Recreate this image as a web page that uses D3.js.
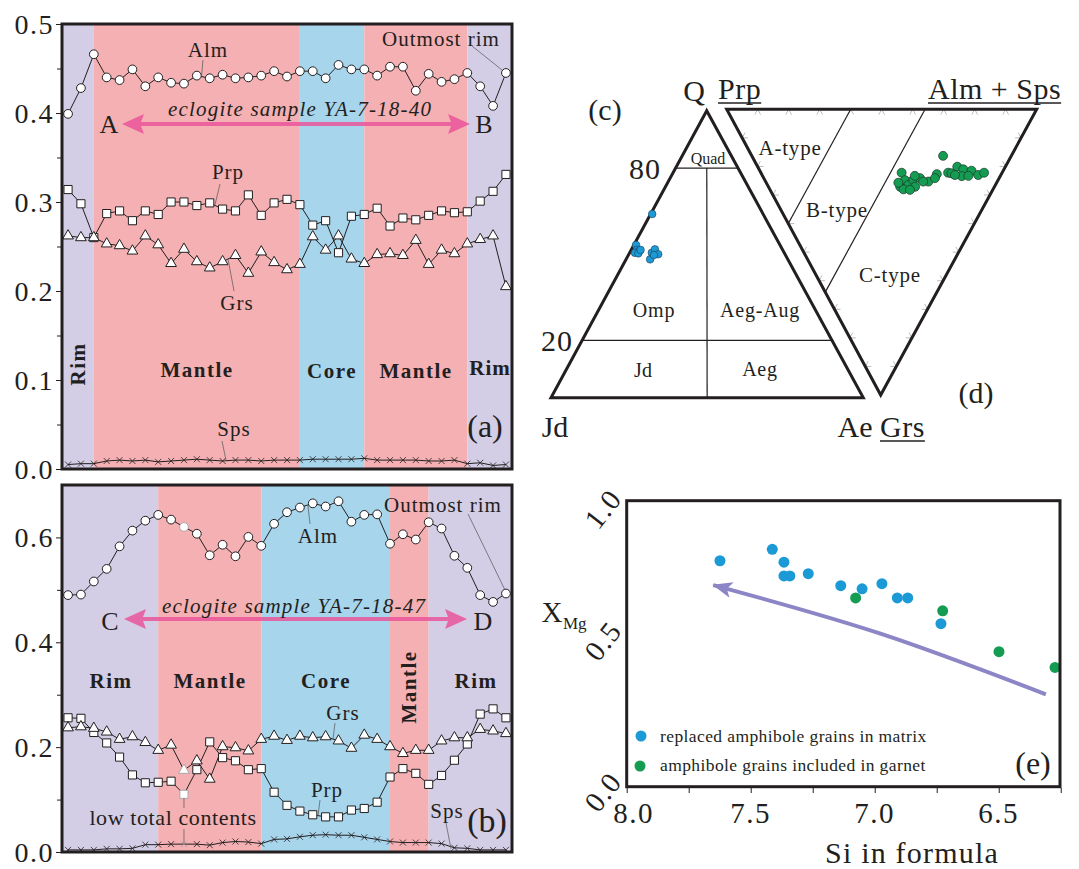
<!DOCTYPE html>
<html>
<head>
<meta charset="utf-8">
<script src="https://cdn.jsdelivr.net/npm/d3@7"></script>
<style>
body { margin: 0; background: #fff; }
text { font-family: "Liberation Serif", "Times New Roman", serif; fill: #231f20; }
</style>
</head>
<body>
<svg id="fig" width="1079" height="869"></svg>
<script>
// ---- garnet profile (a) YA-7-18-40, 35 spots ----
var almA = [0.399,0.428,0.466,0.440,0.437,0.449,0.430,0.440,0.434,0.433,0.442,0.439,0.443,0.439,0.440,0.442,0.447,0.441,0.447,0.447,0.439,0.454,0.449,0.449,0.442,0.452,0.452,0.425,0.444,0.435,0.438,0.445,0.430,0.408,0.445];
var prpA = [0.314,0.298,0.260,0.287,0.290,0.279,0.290,0.286,0.300,0.300,0.296,0.299,0.292,0.290,0.308,0.285,0.299,0.303,0.297,0.274,0.279,0.243,0.284,0.286,0.293,0.273,0.282,0.280,0.285,0.290,0.288,0.289,0.301,0.312,0.331];
var grsA = [0.262,0.260,0.260,0.253,0.251,0.245,0.262,0.252,0.231,0.247,0.233,0.226,0.233,0.240,0.220,0.244,0.232,0.224,0.230,0.261,0.246,0.262,0.236,0.231,0.241,0.242,0.240,0.257,0.230,0.246,0.242,0.253,0.258,0.262,0.205];
var spsA = [0.005,0.006,0.006,0.009,0.010,0.009,0.010,0.008,0.009,0.010,0.011,0.010,0.009,0.010,0.010,0.009,0.010,0.010,0.010,0.011,0.011,0.011,0.011,0.012,0.010,0.010,0.010,0.010,0.009,0.009,0.010,0.006,0.007,0.004,0.005];

// ---- garnet profile (b) YA-7-18-47 ----
var almB = [0.490,0.491,0.516,0.540,0.583,0.613,0.632,0.643,0.634,0.620,0.607,0.566,0.586,0.564,0.601,0.584,0.626,0.648,0.657,0.665,0.659,0.669,0.630,0.643,0.644,0.588,0.606,0.596,0.629,0.617,0.565,0.542,0.490,0.477,0.493];
var prpB = [0.256,0.255,0.228,0.208,0.181,0.147,0.132,0.133,0.135,0.110,0.157,0.210,0.180,0.174,0.157,0.159,0.114,0.089,0.078,0.071,0.067,0.067,0.080,0.083,0.095,0.143,0.159,0.150,0.129,0.146,0.175,0.206,0.263,0.273,0.256];
var grsB = [0.237,0.239,0.236,0.229,0.215,0.220,0.209,0.194,0.204,0.156,0.174,0.139,0.201,0.199,0.193,0.215,0.221,0.213,0.221,0.218,0.220,0.212,0.198,0.223,0.215,0.201,0.188,0.194,0.194,0.212,0.218,0.218,0.234,0.231,0.226];
var spsB = [0.004,0.004,0.004,0.006,0.006,0.007,0.014,0.014,0.015,0.015,0.015,0.013,0.018,0.020,0.019,0.016,0.024,0.025,0.029,0.032,0.033,0.032,0.032,0.028,0.024,0.020,0.018,0.018,0.018,0.016,0.008,0.007,0.004,0.004,0.004];
var lowTotalB = [9];   // spot with low total contents (grey symbols)

// zones along the profiles (in spot units)
var zoneNames = ["Rim", "Mantle", "Core", "Mantle", "Rim"];
var zoneEdgesA = [-0.47, 2, 18, 23, 31, 34.47];
var zoneEdgesB = [-0.47, 7, 15, 25, 28, 34.47];

// ---- (c) clinopyroxene Q-Jd-Ae (%) ----
var cpxQ  = [64.0, 53.2, 51.5, 51.2, 50.5, 50.3, 51.5, 48.2, 50.5, 51.7, 50.0, 49.7];
var cpxJd = [35.5, 46.1, 46.7, 46.0, 47.8, 46.8, 45.5, 44.1, 42.4, 40.8, 40.6, 42.1];
var cpxAe = [0.5, 0.7, 1.8, 2.8, 1.7, 2.9, 3.0, 7.7, 7.1, 7.5, 9.4, 8.2];

// ---- (d) garnet Prp-(Alm+Sps)-Grs (%) ----
var grtPrp = [22.0,32.4,30.4,30.0,28.1,27.4,25.6,25.5,28.9,26.7,22.2,20.8,20.7,17.4,16.2,15.5,13.1,12.4,10.2,7.3,5.8,10.3,14.8,27.6,31.7,23.9];
var grtAlm = [61.7,45.4,42.5,45.2,45.4,47.9,47.3,50.4,43.1,45.1,52.5,56.5,55.2,60.4,61.4,64.4,65.9,64.2,68.3,69.7,72.0,66.4,62.2,49.1,42.6,50.8];
var grtGrs = [16.3,22.2,27.1,24.8,26.5,24.7,27.1,24.1,28.0,28.2,25.3,22.7,24.1,22.2,22.4,20.1,21.0,23.4,21.5,23.0,22.2,23.3,23.0,23.3,25.7,25.3];
var typeBoundsPrp = [60, 36];

// ---- (e) amphibole ----
var matrixSi  = [7.624, 7.413, 7.366, 7.366, 7.342, 7.268, 7.137, 7.051, 6.971, 6.909, 6.867, 6.733];
var matrixXMg = [0.790, 0.830, 0.785, 0.737, 0.737, 0.745, 0.703, 0.692, 0.710, 0.660, 0.660, 0.570];
var inclSi  = [7.077, 6.726, 6.499, 6.273];
var inclXMg = [0.660, 0.615, 0.472, 0.417];
var trendSi  = [6.31, 6.98, 7.651];
var trendXMg = [0.323, 0.536, 0.705];
var siTicks = [8.0, 7.5, 7.0, 6.5];

var INK = "#231f20";
var zoneFill = ["#d3cde6", "#f4b0b2", "#a6d5ec", "#f4b0b2", "#d3cde6"];
var PINK = "#e9559a", PURPLE = "#8c86c6", BLUE = "#1c9ad6", GREEN = "#139c52";

var svg = d3.select("#fig");
svg.append("rect").attr("width", 1079).attr("height", 869).attr("fill", "#fff");

function label(g, x, y, s, size, o) {
  o = o || {};
  var t = g.append("text").attr("x", x).attr("y", y).text(s)
    .attr("font-size", size)
    .attr("text-anchor", o.anchor || "middle");
  if (o.bold) t.attr("font-weight", "bold");
  if (o.italic) t.attr("font-style", "italic");
  if (o.ls) t.attr("letter-spacing", o.ls);
  if (o.rot) t.attr("transform", "rotate(" + o.rot + "," + x + "," + y + ")");
  return t;
}
function leader(g, x1, y1, x2, y2) {
  g.append("line").attr("x1", x1).attr("y1", y1).attr("x2", x2).attr("y2", y2)
    .attr("stroke", "#555").attr("stroke-width", 0.7);
}
function doubleArrow(g, x1, x2, y) {
  var p = d3.path();
  p.moveTo(x1, y); p.lineTo(x1 + 22, y - 10); p.lineTo(x1 + 19, y - 2);
  p.lineTo(x2 - 19, y - 2); p.lineTo(x2 - 22, y - 10); p.lineTo(x2, y);
  p.lineTo(x2 - 22, y + 10); p.lineTo(x2 - 19, y + 2); p.lineTo(x1 + 19, y + 2);
  p.lineTo(x1 + 22, y + 10); p.closePath();
  g.append("path").attr("d", p.toString()).attr("fill", PINK).attr("opacity", 0.85);
}

var xProf = d3.scaleLinear().domain([-0.47, 34.47]).range([62, 512]);
var symCircle = d3.symbol(d3.symbolCircle, 60)();
var symSquare = d3.symbol(d3.symbolSquare, 66)();
var symTri = d3.symbol(d3.symbolTriangle, 50)();
var symX = "M-3,-3L3,3M-3,3L3,-3";

function profilePanel(y, edges, series, grey, major, minor) {
  var g = svg.append("g");
  var top = y.range()[1], bottom = y.range()[0];
  var bands = zoneNames.map(function (n, i) { return { a: edges[i], b: edges[i + 1] }; });
  g.selectAll("rect.band").data(bands).enter().append("rect")
    .attr("x", function (d) { return xProf(d.a); })
    .attr("width", function (d) { return xProf(d.b) - xProf(d.a); })
    .attr("y", top).attr("height", bottom - top)
    .attr("fill", function (d, i) { return zoneFill[i]; });

  var line = d3.line().x(function (d, i) { return xProf(i); }).y(function (d) { return y(d); });
  series.forEach(function (s) {
    g.append("path").attr("d", line(s.vals)).attr("fill", "none")
      .attr("stroke", INK).attr("stroke-width", 1);
  });
  series.forEach(function (s) {
    g.selectAll(null).data(s.vals).enter().append("path")
      .attr("d", s.sym)
      .attr("transform", function (d, i) { return "translate(" + xProf(i) + "," + y(d) + ")"; })
      .attr("fill", s.sym === symX ? "none" : "#fff")
      .attr("stroke", function (d, i) { return grey.indexOf(i) >= 0 ? "#a8a8a8" : INK; })
      .attr("stroke-width", s.sym === symX ? 0.8 : 1);
  });

  g.append("rect").attr("x", 62).attr("y", top).attr("width", 450).attr("height", bottom - top)
    .attr("fill", "none").attr("stroke", INK).attr("stroke-width", 3);

  var ax = g.append("g").attr("transform", "translate(61,0)")
    .call(d3.axisLeft(y).tickValues(major).tickSize(5).tickPadding(2).tickFormat(d3.format(".1f")));
  ax.select(".domain").remove();
  ax.selectAll("text").attr("font-size", 28).attr("letter-spacing", 1.5)
    .attr("font-family", "Liberation Serif").attr("fill", INK).attr("dy", "0.34em");
  ax.selectAll("line").attr("stroke", INK);
  var ax2 = g.append("g").attr("transform", "translate(61,0)")
    .call(d3.axisLeft(y).tickValues(minor).tickSize(4).tickFormat(""));
  ax2.select(".domain").remove();
  ax2.selectAll("line").attr("stroke", INK);
  return g;
}

// ===== (a) =====
var yA = d3.scaleLinear().domain([0, 0.5]).range([469, 24]);
var gA = profilePanel(yA, zoneEdgesA, [
  { vals: almA, sym: symCircle }, { vals: prpA, sym: symSquare },
  { vals: grsA, sym: symTri }, { vals: spsA, sym: symX }], [],
  [0, 0.1, 0.2, 0.3, 0.4, 0.5], [0.05, 0.15, 0.25, 0.35, 0.45]);

label(gA, 78, 364, "Rim", 21, { bold: true, rot: -90, ls: 1.5 }).attr("dominant-baseline", "central");
label(gA, 197, 377, "Mantle", 21, { bold: true, ls: 1.5 });
label(gA, 332, 378, "Core", 21, { bold: true, ls: 1.5 });
label(gA, 416, 378, "Mantle", 21, { bold: true, ls: 1.5 });
label(gA, 490, 375, "Rim", 21, { bold: true, ls: 1 });

label(gA, 208, 57, "Alm", 21, { ls: 1 });
leader(gA, 203, 60, 201.5, yA(0.441));
label(gA, 441, 46, "Outmost rim", 21, { ls: 1 });
leader(gA, 472, 46, 502, 70);
label(gA, 228, 179, "Prp", 21, { ls: 1 });
leader(gA, 220, 184, 215, yA(0.297));
label(gA, 237, 310, "Grs", 21, { ls: 1 });
leader(gA, 234, 291, 228, yA(0.236));
label(gA, 234, 436, "Sps", 21, { ls: 1 });
leader(gA, 222, 441, 226, yA(0.010));
label(gA, 485, 437, "(a)", 32);

doubleArrow(gA, 122, 470, 124);
label(gA, 300, 116, "eclogite sample YA-7-18-40", 21, { italic: true, ls: 1.2 });
label(gA, 109, 133, "A", 26);
label(gA, 484, 133, "B", 26);

// ===== (b) =====
var yB = d3.scaleLinear().domain([0, 0.7]).range([852, 485]);
var gB = profilePanel(yB, zoneEdgesB, [
  { vals: almB, sym: symCircle }, { vals: prpB, sym: symSquare },
  { vals: grsB, sym: symTri }, { vals: spsB, sym: symX }], lowTotalB,
  [0, 0.2, 0.4, 0.6], [0.1, 0.3, 0.5]);

label(gB, 111, 688, "Rim", 21, { bold: true, ls: 1.5 });
label(gB, 210, 688, "Mantle", 21, { bold: true, ls: 1.5 });
label(gB, 326, 688, "Core", 21, { bold: true, ls: 1.5 });
label(gB, 409, 687, "Mantle", 21, { bold: true, rot: -90, ls: 1.5 }).attr("dominant-baseline", "central");
label(gB, 476, 688, "Rim", 21, { bold: true, ls: 1.5 });

label(gB, 443, 512, "Outmost rim", 21, { ls: 1 });
leader(gB, 468, 514, 505, 590);
label(gB, 318, 543, "Alm", 21, { ls: 1 });
leader(gB, 310, 524, 308, yB(0.66));
label(gB, 343, 720, "Grs", 21, { ls: 1 });
leader(gB, 335, 723, 333, yB(0.215));
label(gB, 327, 797, "Prp", 21, { ls: 1 });
leader(gB, 320, 800, 318, yB(0.069));
label(gB, 173, 825, "low total contents", 22, { ls: 0.6 });
leader(gB, xProf(9), yB(0.110) + 4, xProf(9), 808);
leader(gB, xProf(9), 829, xProf(9), yB(0.015));
label(gB, 447, 818, "Sps", 21, { ls: 1 });
leader(gB, 446, 823, 451, yB(0.006));
label(gB, 487, 832, "(b)", 34);

doubleArrow(gB, 124, 467, 619);
label(gB, 294, 613, "eclogite sample YA-7-18-47", 21, { italic: true, ls: 1.2 });
label(gB, 110, 630, "C", 26);
label(gB, 483, 630, "D", 26);

// ===== ternary helpers =====
function ternary(A, B, C) {
  return function (a, b, c) {
    var s = a + b + c;
    return [(a * A[0] + b * B[0] + c * C[0]) / s, (a * A[1] + b * B[1] + c * C[1]) / s];
  };
}

// ===== (c) Q-Jd-Ae =====
var vQ = [706.7, 110.7], vJd = [551, 397.7], vAe = [863.3, 397.7];
var tc = ternary(vQ, vJd, vAe);
var gC = svg.append("g");
function seg(g, p, q, w, col) {
  g.append("line").attr("x1", p[0]).attr("y1", p[1]).attr("x2", q[0]).attr("y2", q[1])
    .attr("stroke", col || INK).attr("stroke-width", w);
}
seg(gC, tc(80, 20, 0), tc(80, 0, 20), 1.2);
seg(gC, tc(20, 80, 0), tc(20, 0, 80), 1.2);
seg(gC, tc(80, 10, 10), tc(0, 50, 50), 1.2);
gC.append("path").attr("d", "M" + [vQ, vJd, vAe].join("L") + "Z")
  .attr("fill", "none").attr("stroke", INK).attr("stroke-width", 3).attr("stroke-linejoin", "miter");
gC.selectAll(null).data(cpxQ).enter().append("circle")
  .attr("cx", function (d, i) { return tc(cpxQ[i], cpxJd[i], cpxAe[i])[0]; })
  .attr("cy", function (d, i) { return tc(cpxQ[i], cpxJd[i], cpxAe[i])[1]; })
  .attr("r", 3.8).attr("fill", BLUE).attr("stroke", "#1d3c55").attr("stroke-width", 0.6);

label(gC, 694, 101, "Q", 30);
label(gC, 605, 120, "(c)", 30);
label(gC, 645, 179, "80", 30, { ls: 1 });
label(gC, 557, 351, "20", 30, { ls: 1 });
label(gC, 555, 437, "Jd", 30);
label(gC, 855, 437, "Ae", 30);
label(gC, 708, 164, "Quad", 16);
label(gC, 654, 317, "Omp", 20, { ls: 0.8 });
label(gC, 760, 317, "Aeg-Aug", 20, { ls: 0.8 });
label(gC, 643, 377, "Jd", 20);
label(gC, 760, 376, "Aeg", 20, { ls: 0.8 });

// ===== (d) Prp-(Alm+Sps)-Grs =====
var vPrp = [726.7, 109.3], vAlm = [1036.7, 109.3], vGrs = [880.7, 395];
var td = ternary(vPrp, vAlm, vGrs);
var gD = svg.append("g");
function unit(p, q) { var dx = q[0] - p[0], dy = q[1] - p[1], l = Math.hypot(dx, dy); return [dx / l, dy / l]; }
var edges = [
  { from: vPrp, to: vAlm, d1: unit(vPrp, vGrs), d2: unit(vAlm, vGrs) },
  { from: vPrp, to: vGrs, d1: [1, 0], d2: unit(vGrs, vAlm) },
  { from: vAlm, to: vGrs, d1: [-1, 0], d2: unit(vGrs, vPrp) }
];
var tickT = d3.range(0.1, 0.95, 0.1);
edges.forEach(function (e) {
  tickT.forEach(function (t) {
    var p = [e.from[0] + t * (e.to[0] - e.from[0]), e.from[1] + t * (e.to[1] - e.from[1])];
    gD.append("path")
      .attr("d", "M" + (p[0] + 6 * e.d1[0]) + "," + (p[1] + 6 * e.d1[1]) + "L" + p[0] + "," + p[1] +
        "L" + (p[0] + 6 * e.d2[0]) + "," + (p[1] + 6 * e.d2[1]))
      .attr("fill", "none").attr("stroke", "#a9a9a9").attr("stroke-width", 0.8);
  });
});
typeBoundsPrp.forEach(function (p) {
  seg(gD, td(p, 100 - p, 0), td(p, 0, 100 - p), 1.2);
});
gD.append("path").attr("d", "M" + [vPrp, vAlm, vGrs].join("L") + "Z")
  .attr("fill", "none").attr("stroke", INK).attr("stroke-width", 3);
gD.selectAll(null).data(grtPrp).enter().append("circle")
  .attr("cx", function (d, i) { return td(grtPrp[i], grtAlm[i], grtGrs[i])[0]; })
  .attr("cy", function (d, i) { return td(grtPrp[i], grtAlm[i], grtGrs[i])[1]; })
  .attr("r", 4.5).attr("fill", GREEN).attr("stroke", "#1c3326").attr("stroke-width", 0.7);

function underlined(g, x, y, s, size) {
  var t = label(g, x, y, s, size, { anchor: "start", ls: 0.5 });
  var w = t.node().getComputedTextLength();
  g.append("line").attr("x1", x).attr("x2", x + w).attr("y1", y + 4).attr("y2", y + 4)
    .attr("stroke", INK).attr("stroke-width", 1.5);
}
underlined(gD, 718, 99, "Prp", 30);
underlined(gD, 928, 99, "Alm + Sps", 30);
underlined(gD, 880, 437, "Grs", 30);
label(gD, 976, 403, "(d)", 30);
label(gD, 790, 155, "A-type", 21, { ls: 0.8 });
label(gD, 837, 217, "B-type", 21, { ls: 0.8 });
label(gD, 890, 282, "C-type", 21, { ls: 0.8 });

// ===== (e) XMg vs Si =====
var gE = svg.append("g");
var xE = d3.scaleLinear().domain([8.0, 6.253]).range([626.7, 1060]);
var yE = d3.scaleLinear().domain([0, 1]).range([786.7, 500.7]);

var trend = d3.line().curve(d3.curveNatural)
  .x(function (d, i) { return xE(trendSi[i]); }).y(function (d) { return yE(d); });
var defs = svg.append("defs");
defs.append("marker").attr("id", "head").attr("viewBox", "0 0 20 16")
  .attr("refX", 19).attr("refY", 8).attr("markerWidth", 20).attr("markerHeight", 16)
  .attr("markerUnits", "userSpaceOnUse").attr("orient", "auto")
  .append("path").attr("d", "M0,0L20,8L0,16L5,8Z").attr("fill", PURPLE);
gE.append("path").attr("d", trend(trendXMg)).attr("fill", "none")
  .attr("stroke", PURPLE).attr("stroke-width", 4).attr("marker-end", "url(#head)");

gE.selectAll(null).data(matrixSi).enter().append("circle")
  .attr("cx", function (d) { return xE(d); })
  .attr("cy", function (d, i) { return yE(matrixXMg[i]); })
  .attr("r", 5.5).attr("fill", BLUE);
gE.selectAll(null).data(inclSi).enter().append("circle")
  .attr("cx", function (d) { return xE(d); })
  .attr("cy", function (d, i) { return yE(inclXMg[i]); })
  .attr("r", 5.5).attr("fill", GREEN);

gE.append("rect").attr("x", 626.7).attr("y", 500.7).attr("width", 433.3).attr("height", 286)
  .attr("fill", "none").attr("stroke", INK).attr("stroke-width", 3);

var axE = gE.append("g").attr("transform", "translate(0,788)")
  .call(d3.axisBottom(xE).tickValues(d3.range(8.0, 6.2, -0.25)).tickSize(5).tickFormat(""));
axE.select(".domain").remove();
axE.selectAll("line").attr("stroke", INK);
gE.selectAll(null).data(siTicks).enter().append("text")
  .attr("x", function (d, i) { return xE(d) + (i === 0 ? 7 : 0); }).attr("y", 823)
  .attr("text-anchor", "middle").attr("font-size", 29).attr("letter-spacing", 1.5)
  .text(function (d) { return d3.format(".1f")(d); });
[1.0, 0.5, 0.0].forEach(function (v) {
  var yy = yE(v) + (v === 1 ? 8 : (v === 0 ? 5 : -3));
  label(gE, 603, yy, d3.format(".1f")(v), 29, { rot: -52, ls: 1.5 }).attr("dominant-baseline", "central");
});
label(gE, 552, 622, "X", 29);
label(gE, 563, 629, "Mg", 17, { anchor: "start" });
label(gE, 912, 863, "Si in formula", 30, { ls: 1.2 });

gE.append("circle").attr("cx", 641).attr("cy", 736).attr("r", 5.5).attr("fill", BLUE);
gE.append("circle").attr("cx", 640).attr("cy", 766).attr("r", 5.5).attr("fill", GREEN);
label(gE, 660, 742, "replaced amphibole grains in matrix", 17.5, { anchor: "start", ls: 0.4 });
label(gE, 660, 771, "amphibole grains included in garnet", 17.5, { anchor: "start", ls: 0.4 });
label(gE, 1033, 774, "(e)", 32);
</script>
</body>
</html>
